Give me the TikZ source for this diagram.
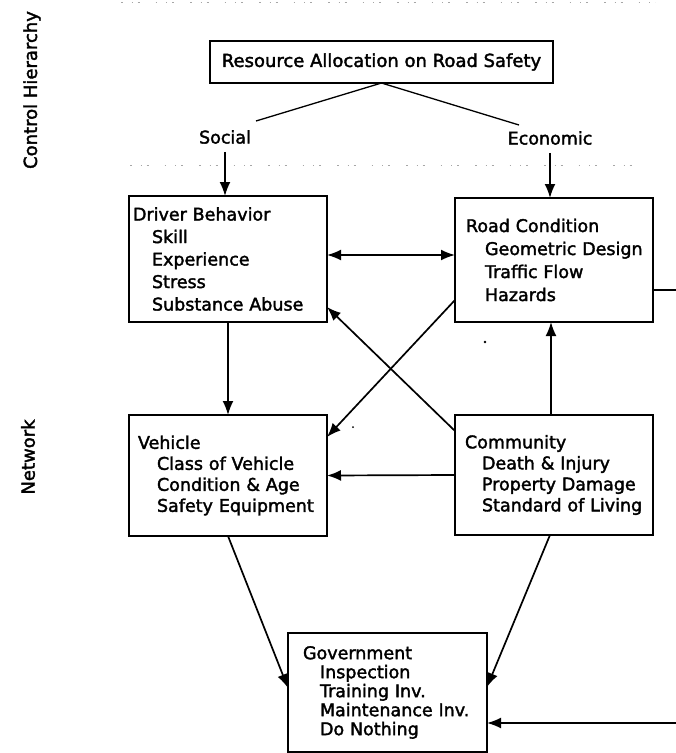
\documentclass[tikz,border=0pt]{standalone}
\usepackage{fontspec}
\setmainfont[FakeBold=2]{DejaVu Sans}
\usetikzlibrary{arrows.meta}
\newcommand\boxitem[2][18pt]{\hspace*{#1}\mbox{#2}}
\begin{document}
\begin{tikzpicture}[x=1pt,y=-1pt,
  box/.style={draw, line width=1.5pt, align=left, outer sep=0pt, inner ysep=0pt,
    font=\fontsize{17.5}{21}\selectfont},
  lbl/.style={inner sep=0pt, font=\fontsize{17.5}{21}\selectfont},
  side/.style={rotate=90, inner sep=0pt, font=\fontsize{18}{21}\selectfont},
  arr/.style={-{Latex[length=14pt,width=11pt]}, line width=1.7pt},
  dbl/.style={{Latex[length=14pt,width=11pt]}-{Latex[length=14pt,width=11pt]}, line width=1.7pt},
  thinln/.style={line width=1.3pt},
  scan/.style={gray!70, line width=1pt, dash pattern=on 1.5pt off 9pt on 1pt off 5pt on 2pt off 16pt}
]
\useasboundingbox (0,0) rectangle (676,753);

% side labels
\node[side] (ch) at (32,90) {Control Hierarchy};
\node[side] (nw) at (28,457) {Network};

% scan dotted separators
\draw[scan] (121,2) -- (655,2);
\draw[scan] (130,165) -- (640,165);

% boxes
\node[box, minimum width=343pt, minimum height=42pt, font=\fontsize{18}{21}\selectfont, align=center] (top) at (381.5,62) {Resource Allocation on Road Safety};

\node[box, text width=190pt, inner xsep=4pt, minimum height=126pt,
  font=\fontsize{17.5}{22.5}\selectfont] (driver) at (228,259)
 {Driver Behavior\\\boxitem[19pt]{Skill}\\\boxitem[19pt]{Experience}\\\boxitem[19pt]{Stress}\\\boxitem[19pt]{Substance Abuse}};

\node[box, text width=176pt, inner xsep=11pt, minimum height=124pt,
  font=\fontsize{17.5}{23}\selectfont] (road) at (554,260)
 {Road Condition\\\boxitem[19pt]{Geometric Design}\\\boxitem[19pt]{Traffic Flow}\\\boxitem[19pt]{Hazards}};

\node[box, text width=180pt, inner xsep=9pt, minimum height=121pt] (vehicle) at (228,475.5)
 {Vehicle\\\boxitem[19pt]{Class of Vehicle}\\\boxitem[19pt]{Condition \& Age}\\\boxitem[19pt]{Safety Equipment}};

\node[box, text width=178pt, inner xsep=10pt, minimum height=120pt] (comm) at (554,475)
 {Community\\\boxitem[17pt]{Death \& Injury}\\\boxitem[17pt]{Property Damage}\\\boxitem[17pt]{Standard of Living}};

\node[box, text width=169pt, inner xsep=15pt, minimum height=119pt,
  font=\fontsize{17.5}{19}\selectfont] (gov) at (387.5,692.5)
 {Government\\\boxitem[17pt]{Inspection}\\\boxitem[17pt]{Training Inv.}\\\boxitem[17pt]{Maintenance Inv.}\\\boxitem[17pt]{Do Nothing}};

% labels
\node[lbl] (social) at (225,137) {Social};
\node[lbl] (econ) at (550,138) {Economic};

% lines from top box
\coordinate (socend) at (256,121);
\coordinate (ecoend) at (519,125);
\draw[thinln] (top.south) -- (socend);
\draw[thinln] (top.south) -- (ecoend);

% arrows to first-row boxes
\draw[arr] ([yshift=-8pt]social.south) -- (social.south |- driver.north);
\draw[arr] ([yshift=-8pt]econ.south) -- (econ.south |- road.north);

% driver <-> road
\draw[dbl] ([yshift=4pt]driver.east) -- ([yshift=4pt]driver.east -| road.west);

% driver -> vehicle
\draw[arr] (driver.south) -- (vehicle.north);

% community -> road
\draw[arr] ([xshift=-3pt]comm.north) -- ([xshift=-3pt]road.south);

% community -> vehicle
\draw[arr] (comm.west) -- (vehicle.east);

% crossing lines
\draw[arr] ([yshift=-16pt]comm.north west) -- ([yshift=15pt]driver.south east);
\draw[arr] ([yshift=22pt]road.south west) -- ([yshift=-22pt]vehicle.north east);

% to government
\draw[arr] (vehicle.south) -- ([yshift=-55pt]gov.north west);
\draw[arr] ([xshift=-4pt]comm.south) -- ([yshift=-54pt]gov.north east);

% right side loop (runs off the picture edge)
\coordinate (rtop) at (676,290);
\coordinate (rbot) at (676,723);
\draw[line width=1.7pt] (road.east |- rtop) -- (rtop);
\draw[arr] (rbot) -- (gov.east |- rbot);

% scan specks
\fill (485,342) circle (1.3pt);
\fill (353,427) circle (1pt);
\end{tikzpicture}
\end{document}
